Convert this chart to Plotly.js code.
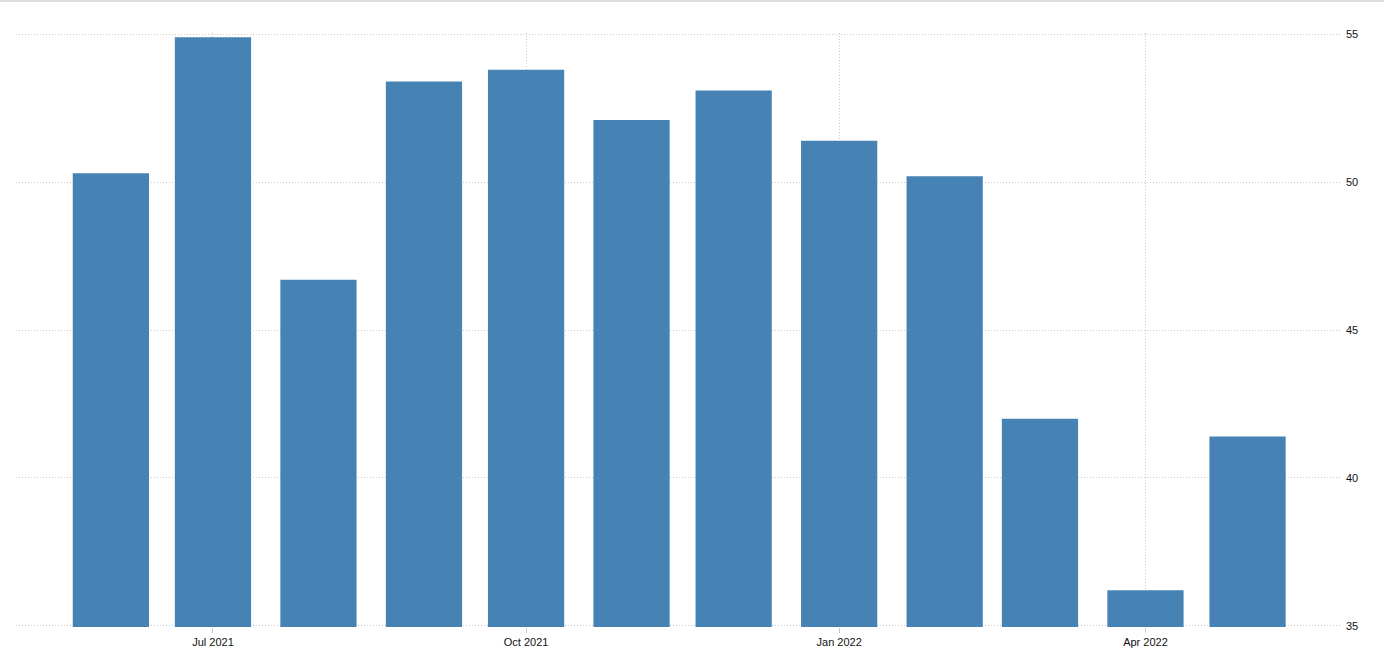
<!DOCTYPE html>
<html>
<head>
<meta charset="utf-8">
<script src="https://cdn.plot.ly/plotly-3.0.1.min.js"></script>
<style>
  html, body { margin: 0; padding: 0; background: #fff; }
  #chart { width: 1384px; height: 668px; border-top: 2px solid #dcdcdc; }
</style>
</head>
<body>
<div id="chart"></div>
<script>
// monthly readings, Jun 2021 - May 2022
const months = ['2021-06-01', '2021-07-01', '2021-08-01', '2021-09-01', '2021-10-01', '2021-11-01',
  '2021-12-01', '2022-01-01', '2022-02-01', '2022-03-01', '2022-04-01', '2022-05-01']
const values = [50.3, 54.9, 46.7, 53.4, 53.8, 52.1, 53.1, 51.4, 50.2, 42.0, 36.2, 41.4]
const yTicks = [35, 40, 45, 50, 55]

window.addEventListener('load', () => {
  drawChart()
})

function drawChart () {
  const data = [{
    type: 'bar',
    x: months,
    y: values,
    marker: { color: '#4682b4' },
    hoverinfo: 'x+y'
  }]

  const layout = {
    width: 1384,
    height: 668,
    margin: { l: 16, r: 42, t: 31, b: 43 },
    paper_bgcolor: '#fff',
    plot_bgcolor: '#fff',
    bargap: 0.2,
    showlegend: false,
    font: { family: 'Liberation Sans, Arial, sans-serif', size: 11, color: '#111' },
    xaxis: {
      type: 'date',
      range: ['2021-05-04 03:00', '2022-05-28 18:00'],
      tick0: '2021-07-01',
      dtick: 'M3',
      tickformat: '%b %Y',
      ticks: 'outside',
      ticklen: 5,
      tickcolor: '#ccc',
      showgrid: true,
      gridcolor: '#c8c8c8',
      griddash: '1px,2px',
      zeroline: false,
      showline: false
    },
    yaxis: {
      side: 'right',
      range: [34.96, 55.04],
      tickvals: yTicks,
      ticks: '',
      ticklabelstandoff: 3,
      showgrid: true,
      gridcolor: '#c8c8c8',
      griddash: '1px,2px',
      zeroline: false,
      showline: false
    }
  }

  Plotly.newPlot('chart', data, layout, { displayModeBar: false, staticPlot: true })
}
</script>
</body>
</html>
